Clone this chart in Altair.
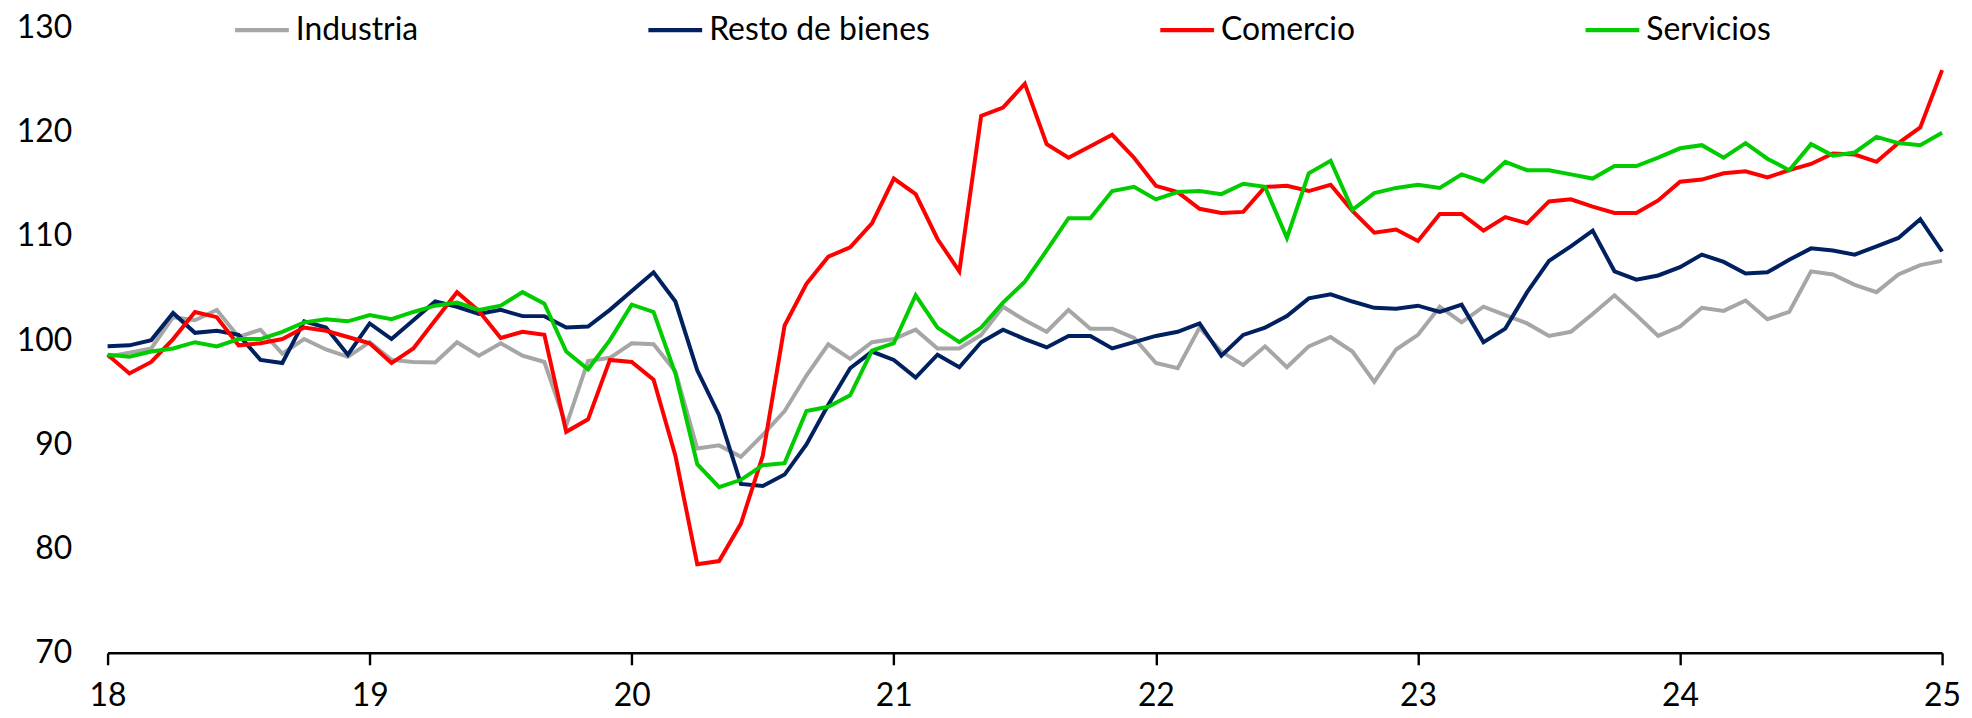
import altair as alt
import pandas as pd

series_names = ["Industria", "Resto de bienes", "Comercio", "Servicios"]
series_colors = ["#A6A6A6", "#002060", "#FF0000", "#00CC00"]

industria = [98.4, 98.8, 99.2, 102.2, 101.9, 102.9, 100.3, 101.0, 98.7, 100.1,
             99.1, 98.4, 99.8, 98.1, 97.9, 97.85, 99.8, 98.5, 99.7, 98.5,
             97.9, 91.8, 98.0, 98.3, 99.7, 99.6, 97.0, 89.6, 89.9, 88.8,
             90.9, 93.2, 96.6, 99.6, 98.2, 99.8, 100.1, 101.0, 99.2, 99.2,
             100.5, 103.2, 101.9, 100.8, 102.9, 101.1, 101.1, 100.2, 97.8, 97.3,
             101.2, 98.9, 97.6, 99.4, 97.4, 99.4, 100.3, 98.9, 96.0, 99.1,
             100.5, 103.2, 101.7, 103.2, 102.4, 101.6, 100.4, 100.8, 102.5, 104.3,
             102.4, 100.4, 101.3, 103.1, 102.8, 103.8, 102.0, 102.7, 106.6, 106.3,
             105.3, 104.6, 106.3, 107.2, 107.6]

resto = [99.4, 99.5, 100.0, 102.6, 100.7, 100.9, 100.5, 98.1, 97.8, 101.8,
         101.2, 98.6, 101.6, 100.1, 101.9, 103.7, 103.2, 102.5, 102.9, 102.3,
         102.3, 101.2, 101.3, 102.9, 104.7, 106.5, 103.7, 97.1, 92.8, 86.2,
         86.0, 87.1, 90.0, 93.8, 97.3, 98.9, 98.1, 96.4, 98.6, 97.4,
         99.8, 101.0, 100.1, 99.3, 100.4, 100.4, 99.2, 99.8, 100.4, 100.8,
         101.6, 98.5, 100.5, 101.2, 102.3, 104.0, 104.4, 103.7, 103.1, 103.0,
         103.3, 102.7, 103.4, 99.8, 101.1, 104.6, 107.6, 109.0, 110.5, 106.6,
         105.8, 106.2, 107.0, 108.2, 107.5, 106.4, 106.5, 107.7, 108.8, 108.6,
         108.2, 109.0, 109.8, 111.6, 108.5]

comercio = [98.6, 96.8, 97.9, 100.1, 102.7, 102.2, 99.5, 99.7, 100.1, 101.2,
            100.9, 100.3, 99.7, 97.8, 99.2, 101.9, 104.6, 102.8, 100.2, 100.8,
            100.5, 91.2, 92.4, 98.1, 97.9, 96.2, 88.9, 78.5, 78.8, 82.4,
            88.9, 101.4, 105.4, 108.0, 108.9, 111.2, 115.5, 114.0, 109.7, 106.6,
            121.5, 122.3, 124.6, 118.8, 117.5, 118.6, 119.7, 117.5, 114.8, 114.2,
            112.6, 112.2, 112.3, 114.7, 114.8, 114.3, 114.9, 112.4, 110.3, 110.6,
            109.5, 112.1, 112.1, 110.5, 111.8, 111.2, 113.3, 113.5, 112.8, 112.2,
            112.2, 113.4, 115.2, 115.4, 116.0, 116.2, 115.6, 116.3, 116.9, 117.9,
            117.8, 117.1, 118.9, 120.4, 125.9]

servicios = [98.6, 98.4, 98.9, 99.2, 99.8, 99.4, 100.1, 100.1, 100.8, 101.7,
             102.0, 101.8, 102.4, 102.0, 102.7, 103.3, 103.6, 102.9, 103.3, 104.6,
             103.5, 98.9, 97.2, 100.0, 103.4, 102.7, 96.8, 88.1, 85.9, 86.6,
             88.0, 88.2, 93.2, 93.6, 94.7, 99.0, 99.7, 104.3, 101.2, 99.8,
             101.2, 103.6, 105.6, 108.6, 111.7, 111.7, 114.3, 114.7, 113.5, 114.2,
             114.3, 114.0, 115.0, 114.7, 109.8, 116.0, 117.2, 112.5, 114.1, 114.6,
             114.9, 114.6, 115.9, 115.2, 117.1, 116.3, 116.3, 115.9, 115.5, 116.7,
             116.7, 117.5, 118.4, 118.7, 117.5, 118.9, 117.4, 116.3, 118.8, 117.7,
             118.0, 119.5, 118.9, 118.7, 119.9]

year_ticks = [18, 19, 20, 21, 22, 23, 24, 25]
y_ticks = [70, 80, 90, 100, 110, 120, 130]

months = pd.date_range("2018-01-01", periods=85, freq="MS")
t = [(d.year - 2000) + (d.month - 1) / 12 for d in months]

rows = []
for name, vals in zip(series_names, [industria, resto, comercio, servicios]):
    for ti, v in zip(t, vals):
        rows.append({"t": ti, "v": v, "serie": name})
df = pd.DataFrame(rows)

FONT = "Lato"

chart = alt.Chart(df).mark_line(strokeWidth=4).encode(
    x=alt.X("t:Q",
            scale=alt.Scale(domain=[18, 25], nice=False, zero=False),
            axis=alt.Axis(values=year_ticks, format="d", title=None,
                          domainColor="black", domainWidth=2.6,
                          tickColor="black", tickWidth=2.4, tickSize=12,
                          labelFont=FONT, labelFontSize=32, labelColor="black",
                          labelPadding=16, labelFlush=False, grid=False)),
    y=alt.Y("v:Q",
            scale=alt.Scale(domain=[70, 130], nice=False, zero=False),
            axis=alt.Axis(values=y_ticks, title=None, domain=False, ticks=False,
                          labelFont=FONT, labelFontSize=32, labelColor="black",
                          labelPadding=36, grid=False)),
    color=alt.Color("serie:N",
                    scale=alt.Scale(domain=series_names, range=series_colors),
                    sort=series_names,
                    legend=alt.Legend(title=None, orient="none", legendX=125.5, legendY=-27,
                                      direction="horizontal", columns=4, columnPadding=221,
                                      symbolType="stroke", symbolSize=2916,
                                      symbolStrokeWidth=4.5, labelFont=FONT,
                                      labelFontSize=32, labelColor="black",
                                      labelOffset=4.5, labelLimit=0, padding=0)),
).properties(
    width=1842, height=628,
    autosize=alt.AutoSizeParams(type="none"),
    padding={"left": 100, "top": 18, "right": 22, "bottom": 70},
    background="white",
).configure_view(stroke=None)

chart.save("out.html", embed_options={"renderer": "svg", "actions": False})
